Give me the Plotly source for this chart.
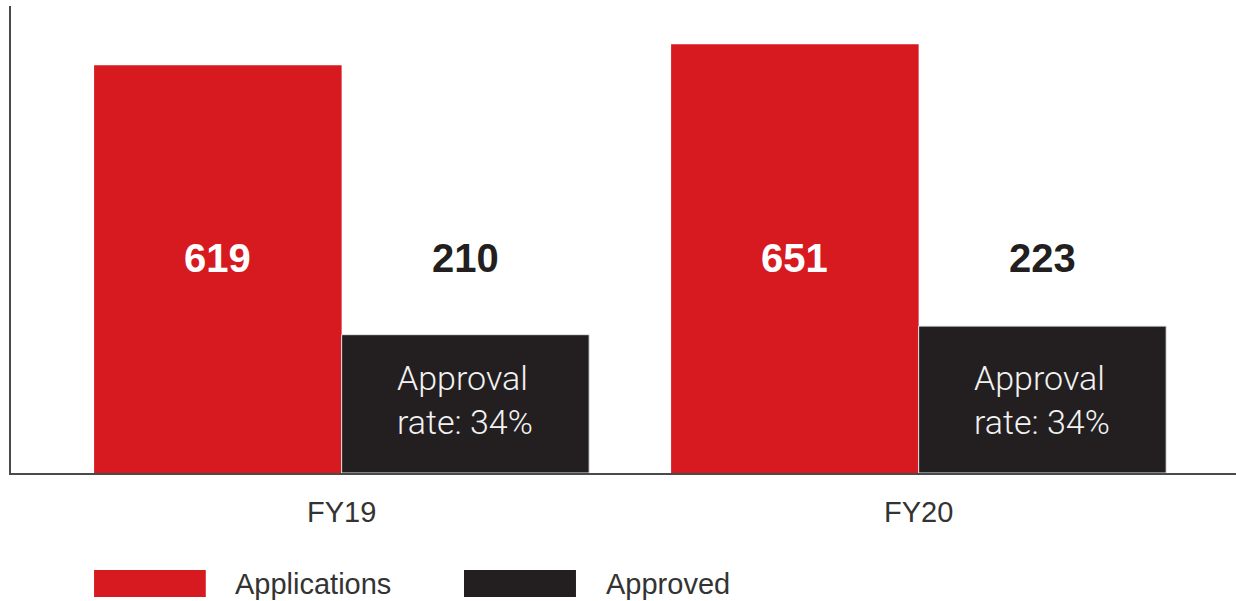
import plotly.graph_objects as go

# Data
years = ["FY19", "FY20"]
applications = [619, 651]
approved = [210, 223]
series_names = ["Applications", "Approved"]

RED = "#d71920"
DARK = "#231f20"
FONT = "Liberation Sans, Arial, Helvetica, sans-serif"
BARGAP = 0.142

fig = go.Figure()
fig.add_trace(go.Bar(x=years, y=applications, name=series_names[0],
                     marker=dict(color=RED, line=dict(width=0))))
fig.add_trace(go.Bar(x=years, y=approved, name=series_names[1],
                     marker=dict(color=DARK, line=dict(color="#e6e6e6", width=1))))

annotations = []
offset = (1 - BARGAP) / 4  # centre of each bar within its group
for i, yr in enumerate(years):
    # value labels
    annotations.append(dict(x=i - offset, xref="x", y=0.46, yref="paper",
                            yanchor="middle",
                            text=f"<b>{applications[i]}</b>", showarrow=False,
                            font=dict(family=FONT, size=40, color="white")))
    annotations.append(dict(x=i + offset, xref="x", y=0.46, yref="paper",
                            yanchor="middle",
                            text=f"<b>{approved[i]}</b>", showarrow=False,
                            font=dict(family=FONT, size=40, color=DARK)))
    rate = round(100 * approved[i] / applications[i])
    annotations.append(dict(x=i + offset, xref="x", y=0.156, yref="paper",
                            yanchor="middle",
                            text=f"Approval<br>rate: {rate}%", showarrow=False,
                            align="left",
                            font=dict(family="Roboto, " + FONT, size=34,
                                      color="#f2f2f2", weight=300)))

# Custom legend: wide swatches with labels
legend_items = [(series_names[0], RED, 0.0678, 0.159, 0.1812),
                (series_names[1], DARK, 0.3698, 0.4612, 0.484)]
shapes = []
for name, color, x0, x1, xt in legend_items:
    shapes.append(dict(type="rect", xref="paper", yref="paper",
                       x0=x0, x1=x1, y0=-0.2655, y1=-0.2077,
                       fillcolor=color, line=dict(width=0)))
    annotations.append(dict(x=xt, xref="paper", y=-0.2377, yref="paper",
                            text=name, showarrow=False, xanchor="left",
                            yanchor="middle",
                            font=dict(family=FONT, size=29, color="#333333")))

fig.update_layout(
    width=1236, height=601,
    margin=dict(l=11, r=0, t=6, b=128),
    paper_bgcolor="white", plot_bgcolor="white",
    barmode="group", bargap=BARGAP, bargroupgap=0,
    showlegend=False,
    annotations=annotations, shapes=shapes,
    xaxis=dict(range=[-0.573, 1.55], showline=True, linecolor="#4a4a4a",
               linewidth=1.5, showgrid=False, ticks="outside", ticklen=12,
               tickcolor="rgba(0,0,0,0)",
               tickfont=dict(family=FONT, size=29, color="#333333")),
    yaxis=dict(range=[0, 709], showline=True, linecolor="#4a4a4a",
               linewidth=1.5, showgrid=False, showticklabels=False,
               ticks="", zeroline=False),
)

fig.write_html("out.html")
